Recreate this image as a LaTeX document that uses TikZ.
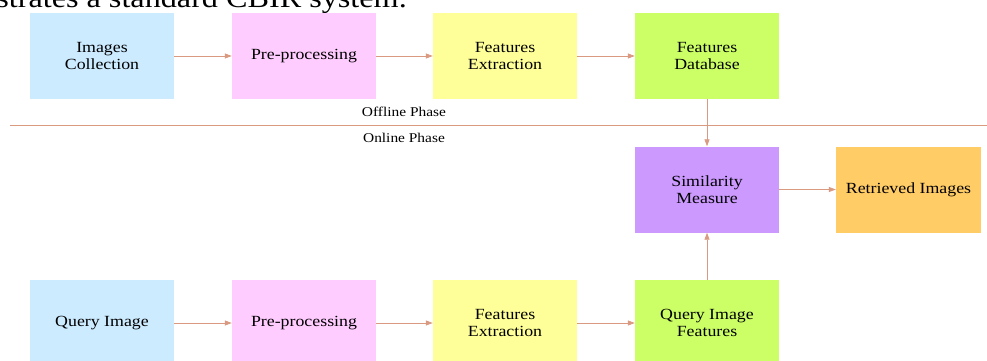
\documentclass[tikz,border=0pt]{standalone}
\usepackage{fontspec}
\setmainfont{Liberation Serif}[FakeStretch=1.15]
\usetikzlibrary{arrows.meta}
\definecolor{cblue}{HTML}{CCEBFF}
\definecolor{cpink}{HTML}{FFCCFF}
\definecolor{cyell}{HTML}{FFFF99}
\definecolor{cgreen}{HTML}{CCFF66}
\definecolor{cpurp}{HTML}{CC99FF}
\definecolor{corange}{HTML}{FFCC66}
\definecolor{carrow}{HTML}{DA9A82}
\tikzset{
  box/.style={draw=none, minimum width=144pt, minimum height=86pt, inner sep=0pt, align=center,
    font=\fontsize{15.5}{17}\selectfont},
  conn/.style={draw=carrow, line width=0.8pt, -{Triangle[length=7pt,width=5pt]}},
  phase/.style={font=\fontsize{13.4}{15}\selectfont, inner sep=0pt},
}
\begin{document}
\begin{tikzpicture}[x=1pt,y=-1pt]
\useasboundingbox (0,0) rectangle (987,361);
\node[anchor=base east, inner sep=0pt, font=\fontsize{28}{30}\selectfont] (cap) at (407,8) {illustrates a standard CBIR system.};
% top row
\node[box, fill=cblue] (ic) at (102,56) {Images\\Collection};
\node[box, fill=cpink] (pp1) at (304,56) {Pre-processing};
\node[box, fill=cyell] (fe1) at (505,56) {Features\\Extraction};
\node[box, fill=cgreen] (fd) at (707,56) {Features\\Database};
% middle
\node[box, fill=cpurp] (sm) at (707,189.5) {Similarity\\Measure};
\node[box, fill=corange, minimum width=145pt] (ri) at (908.5,189.5) {Retrieved Images};
% bottom row
\node[box, fill=cblue] (qi) at (102,323) {Query Image};
\node[box, fill=cpink] (pp2) at (304,323) {Pre-processing};
\node[box, fill=cyell] (fe2) at (505,323) {Features\\Extraction};
\node[box, fill=cgreen] (qf) at (707,323) {Query Image\\Features};
% phase separator
\coordinate (ls) at (10,125);
\coordinate (le) at (987,125);
\draw[draw=carrow, line width=0.8pt] (ls) -- (le);
\node[phase] (off) at (404,112) {Offline Phase};
\node[phase] (on) at (404,138) {Online Phase};
% connectors
\draw[conn] (ic) -- (pp1);
\draw[conn] (pp1) -- (fe1);
\draw[conn] (fe1) -- (fd);
\draw[conn] (fd) -- (sm);
\draw[conn] (sm) -- (ri);
\draw[conn] (qi) -- (pp2);
\draw[conn] (pp2) -- (fe2);
\draw[conn] (fe2) -- (qf);
\draw[conn] (qf) -- (sm);
\end{tikzpicture}
\end{document}
